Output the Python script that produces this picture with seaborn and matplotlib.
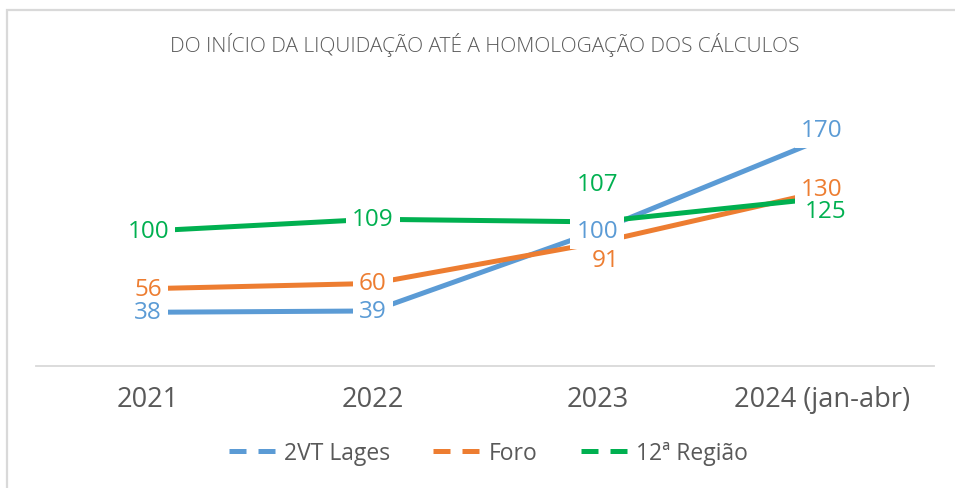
import pandas as pd
import seaborn as sns
import matplotlib.pyplot as plt
from matplotlib.lines import Line2D
from matplotlib.patches import Rectangle

# dados
anos = ["2021", "2022", "2023", "2024 (jan-abr)"]
lages = [38, 39, 100, 170]
foro = [56, 60, 91, 130]
regiao = [100, 109, 107, 125]
series = ["2VT Lages", "Foro", "12ª Região"]
titulo = "DO INÍCIO DA LIQUIDAÇÃO ATÉ A HOMOLOGAÇÃO DOS CÁLCULOS"

cores = {"2VT Lages": "#5B9BD5", "Foro": "#ED7D31", "12ª Região": "#00B050"}
cinza = "#595959"

df = pd.DataFrame({
    "ano": anos * 3,
    "valor": lages + foro + regiao,
    "serie": [s for s in series for _ in anos],
})

sns.set_theme(style="white")
plt.rcParams["font.family"] = ["Open Sans", "DejaVu Sans"]

fig = plt.figure(figsize=(9.55, 4.89), dpi=100)
# eixo: base em y=367 px, escala ~1.31 px por unidade
ax = fig.add_axes([36 / 955, 1 - 367 / 489, (934 - 36) / 955, 266 / 489])

sns.lineplot(data=df, x="ano", y="valor", hue="serie", palette=cores,
             linewidth=3.6, sort=False, legend=False, ax=ax)

ax.set_xlim(-0.5, 3.5)
ax.set_ylim(-3, 200)
ax.set_xlabel("")
ax.set_ylabel("")
ax.set_yticks([])
for s in ["top", "left", "right"]:
    ax.spines[s].set_visible(False)
ax.spines["bottom"].set_color("#D9D9D9")
ax.spines["bottom"].set_linewidth(1.3)
ax.tick_params(axis="x", length=0, pad=14, labelsize=19.5, labelcolor=cinza)

# rótulos de dados (deslocamentos em pixels)
desloc = {
    "2VT Lages": [(0, 0), (0, 0), (0, 0), (0, 9)],
    "Foro": [(0, 0), (0, 0), (8, -17), (0, 3)],
    "12ª Região": [(0, 0), (0, 0), (0, 38), (4, -13)],
}
valores = {"2VT Lages": lages, "Foro": foro, "12ª Região": regiao}
for s in series:
    for i, v in enumerate(valores[s]):
        dx, dy = desloc[s][i]
        kw = dict(xytext=(dx * 0.72, dy * 0.72), textcoords="offset points",
                  ha="center", va="center", fontsize=17.5)
        # fundo branco primeiro, texto por cima de todos os fundos
        ax.annotate(str(v), (i, v), color=(1, 1, 1, 0), zorder=8,
                    bbox=dict(boxstyle="square,pad=0.25", fc="white", ec="none"),
                    **kw)
        ax.annotate(str(v), (i, v), color=cores[s], zorder=10, **kw)

fig.text(485 / 955, 1 - 45 / 489, titulo, ha="center", va="center",
         fontsize=15, color=cinza, fontweight="light")

handles = [Line2D([], [], color=cores[s], linewidth=3.6, dashes=(3.4, 2.4))
           for s in series]
leg = fig.legend(handles, series, loc="center", ncol=3,
                 bbox_to_anchor=(488 / 955, 1 - 454 / 489), frameon=False,
                 fontsize=16.5, handlelength=2.2, handletextpad=0.2,
                 columnspacing=1.9)
for t in leg.get_texts():
    t.set_color(cinza)

fig.patches.append(Rectangle((7 / 955, -0.1), 1.2, 1.1 - 11 / 489,
                             transform=fig.transFigure, fill=False,
                             edgecolor="#D9D9D9", linewidth=1.6))

fig.savefig("out.png", dpi=100)
